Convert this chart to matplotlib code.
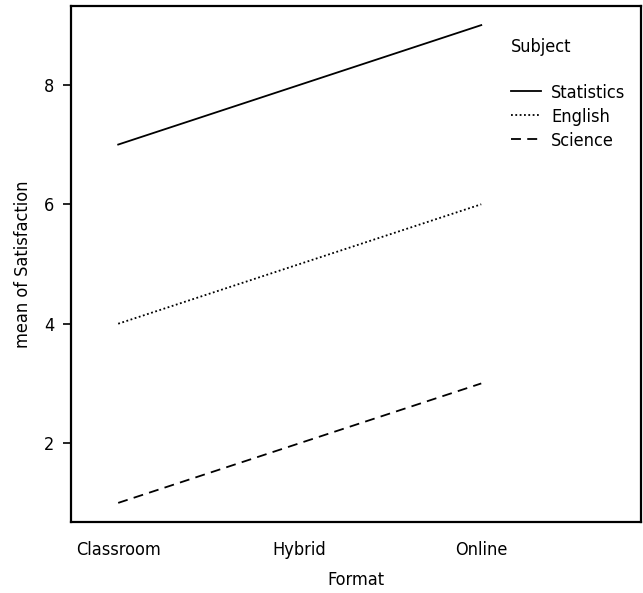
import os
import matplotlib
matplotlib.use("Agg")
import matplotlib.pyplot as plt
from matplotlib import font_manager as fm

# a narrow face is closest to the original; fall back to Roboto
fam, stretch, fsize = 'Roboto', 'normal', 12
for f in fm.fontManager.ttflist:
    base = os.path.basename(f.fname).lower()
    if ('condensed' in base or 'narrow' in base) and not any(
            w in base for w in ('bold', 'oblique', 'italic', 'light', 'black', 'thin')):
        fam, stretch, fsize = f.name, f.stretch, 13
        break
plt.rcParams['font.family'] = [fam, 'DejaVu Sans']
plt.rcParams['font.stretch'] = stretch
plt.rcParams['font.size'] = fsize
plt.rcParams['font.weight'] = 'medium'

formats = ['Classroom', 'Hybrid', 'Online']
subjects = ['Statistics', 'English', 'Science']
statistics = [7, 8, 9]
english = [4, 5, 6]
science = [1, 2, 3]
styles = ['-', (0, (1, 1.4)), (0, (5.5, 3.5))]

fig = plt.figure(figsize=(6.43, 5.93), dpi=100)
ax = fig.add_axes([71/643, 71/593, 570/643, 516/593])

x = [1, 2, 3]
for vals, name, ls in zip([statistics, english, science], subjects, styles):
    ax.plot(x, vals, color='black', linestyle=ls, linewidth=1.3, label=name)

ax.set_xlim(0.74, 3.88)
ax.set_ylim(0.68, 9.32)
ax.set_xticks(x)
ax.set_xticklabels(formats)
ax.tick_params(axis='x', length=0, pad=14)
ax.set_yticks([2, 4, 6, 8])
ax.tick_params(axis='y', length=6, width=1.2, direction='out', pad=6)
for s in ax.spines.values():
    s.set_linewidth(1.6)

ax.set_xlabel('Format', va='center')
ax.xaxis.set_label_coords(0.5, -0.112)
ax.set_ylabel('mean of Satisfaction', va='center')
ax.yaxis.set_label_coords(-0.084, 0.5)

hl = 30 / (fsize * 100 / 72)
leg = ax.legend(title='Subject', loc='upper left', frameon=False,
                bbox_to_anchor=(511/643, 1 - 38/593), bbox_transform=fig.transFigure,
                borderpad=0, borderaxespad=0,
                handlelength=hl, handletextpad=0.55, labelspacing=0.33,
                alignment='left', title_fontsize=fsize)
leg._legend_box.sep = 20

fig.savefig('out.png', dpi=100)
